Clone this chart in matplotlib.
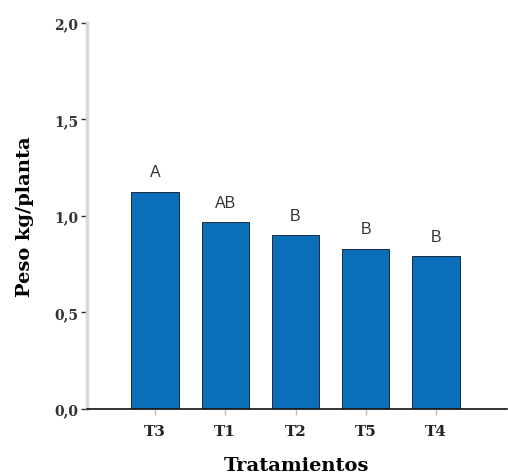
import matplotlib.pyplot as plt

# data
tratamientos = ["T3", "T1", "T2", "T5", "T4"]
peso = [1.125, 0.968, 0.90, 0.83, 0.792]
letras = ["A", "AB", "B", "B", "B"]
yticks = [0.0, 0.5, 1.0, 1.5, 2.0]
ytick_labels = ["0,0", "0,5", "1,0", "1,5", "2,0"]

serif = ["DejaVu Serif"]
sans = ["Liberation Sans", "DejaVu Sans"]

fig = plt.figure(figsize=(5.08, 4.77), dpi=100)
ax = fig.add_axes([0.171, 0.1405, 0.827, 0.8095])

x = range(len(tratamientos))
ax.bar(x, peso, width=0.67, color="#0a6fb8", edgecolor="#1b2a3a", linewidth=0.7, zorder=2)

# significance letters above bars
for xi, v, s in zip(x, peso, letras):
    ax.annotate(s, (xi, v), xytext=(0, 9), textcoords="offset points",
                ha="center", va="bottom", fontsize=11.5, color="#333333", family=sans)

ax.set_xlim(-0.97, 5.01)
ax.set_ylim(0, 2.0)
ax.set_xticks(list(x))
ax.set_xticklabels(tratamientos, family=serif, fontweight="bold", fontsize=11, color="#222222")
ax.set_yticks(yticks)
ax.set_yticklabels(ytick_labels, family=serif, fontweight="bold", fontsize=10, color="#333333")

ax.spines["top"].set_visible(False)
ax.spines["right"].set_visible(False)
ax.spines["left"].set_color("#d8d8d8")
ax.spines["left"].set_linewidth(2.5)
ax.spines["bottom"].set_color("#111111")
ax.spines["bottom"].set_linewidth(1.2)
ax.tick_params(axis="y", length=4, width=1, color="#333333", pad=2)
ax.tick_params(axis="x", length=4, width=1, color="#bbbbbb", pad=7)

ax.set_xlabel("Tratamientos", family=serif, fontweight="bold", fontsize=14, labelpad=13)
ax.set_ylabel("Peso kg/planta", family=serif, fontweight="bold", fontsize=14, labelpad=15)

fig.savefig("out.png", dpi=100)
